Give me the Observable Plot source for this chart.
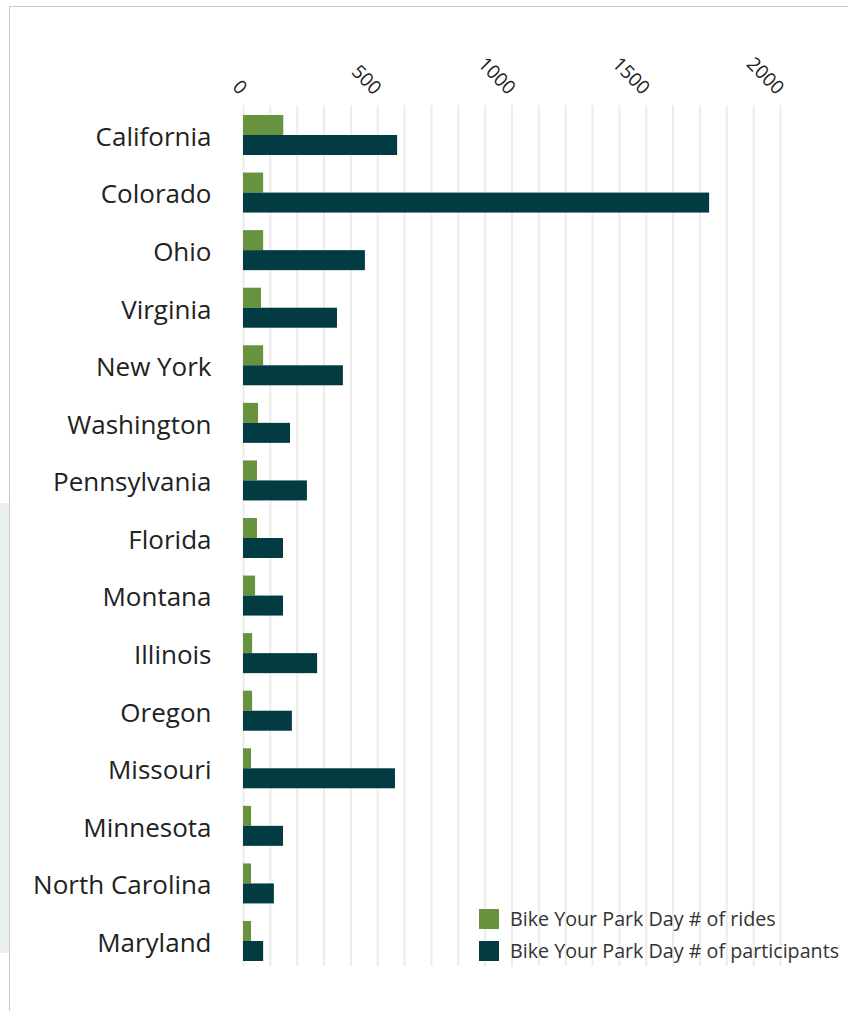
<!DOCTYPE html>
<html><head><meta charset="utf-8">
<script src="https://cdn.jsdelivr.net/npm/d3@7"></script>
<script src="https://cdn.jsdelivr.net/npm/@observablehq/plot@0.6"></script>
<style>
html,body{margin:0;padding:0;background:#fff;}
body{width:848px;height:1011px;position:relative;overflow:hidden;font-family:"Open Sans",sans-serif;}
#side{position:absolute;left:0;top:503px;width:9px;height:450px;background:#e9eef0;}
#vline{position:absolute;left:9px;top:6px;width:1px;height:1005px;background:#c9c9c9;}
#hline{position:absolute;left:9px;top:6px;width:839px;height:1px;background:#c9c9c9;}
#chart{position:absolute;left:0;top:0;}
#legend{position:absolute;left:479px;top:909px;font-size:19.7px;color:#333;line-height:20px;}
.item{display:flex;align-items:center;height:20px;margin-bottom:12px;white-space:nowrap;}
.sw{width:20px;height:20px;margin-right:11px;flex:none;}
</style>
</head><body>
<div id="side"></div>
<div id="chart"></div>
<div id="vline"></div>
<div id="hline"></div>
<div id="legend"></div>
<script>
const states = ["California","Colorado","Ohio","Virginia","New York","Washington","Pennsylvania","Florida","Montana","Illinois","Oregon","Missouri","Minnesota","North Carolina","Maryland"];
const rides = [150,75,75,67,75,56,52,52,45,34,34,30,30,30,30];
const participants = [574,1736,454,350,372,175,238,149,149,276,182,566,149,115,75];
const xTicks = [0,500,1000,1500,2000];
const gridTicks = d3.range(0, 2001, 100);
const seriesNames = ["Bike Your Park Day # of rides","Bike Your Park Day # of participants"];
const colors = ["#67933f","#023b42"];

const data = states.map((s,i)=>({state:s, rides:rides[i], participants:participants[i]}));

const chart = Plot.plot({
  width: 848, height: 1011,
  marginLeft: 243, marginRight: 68, marginTop: 105, marginBottom: 45,
  style: {fontFamily: "'Open Sans', sans-serif", fontSize: "16px", color: "#222", background: "transparent"},
  x: {domain: [0, 2000], axis: null},
  y: {domain: states, range: [115, 961], paddingInner: 0.3052, paddingOuter: 0, round: false, axis: null, label: null},
  marks: [
    Plot.ruleX(gridTicks, {x: d => d, stroke: "#ececec", strokeWidth: 2}),
    Plot.barX(data, {y: "state", x: "rides", fill: colors[0], insetBottom: 20}),
    Plot.barX(data, {y: "state", x: "participants", fill: colors[1], insetTop: 20}),
    Plot.axisY({tickSize: 0, tickPadding: 32, fontSize: 26, fill: "#222", label: null, dy: 2}),
    Plot.text(xTicks, {x: d => d, text: d => String(d), frameAnchor: "top", dx: 0, dy: -14, rotate: 45, textAnchor: "end", lineAnchor: "middle", fontSize: 19, fill: "#222"})
  ]
});
document.getElementById("chart").appendChild(chart);

const legend = document.getElementById("legend");
seriesNames.forEach((n,i)=>{
  const it = document.createElement("div"); it.className = "item";
  const sw = document.createElement("div"); sw.className = "sw"; sw.style.background = colors[i];
  const t = document.createElement("span"); t.textContent = n;
  it.appendChild(sw); it.appendChild(t); legend.appendChild(it);
});
</script>
</body></html>
